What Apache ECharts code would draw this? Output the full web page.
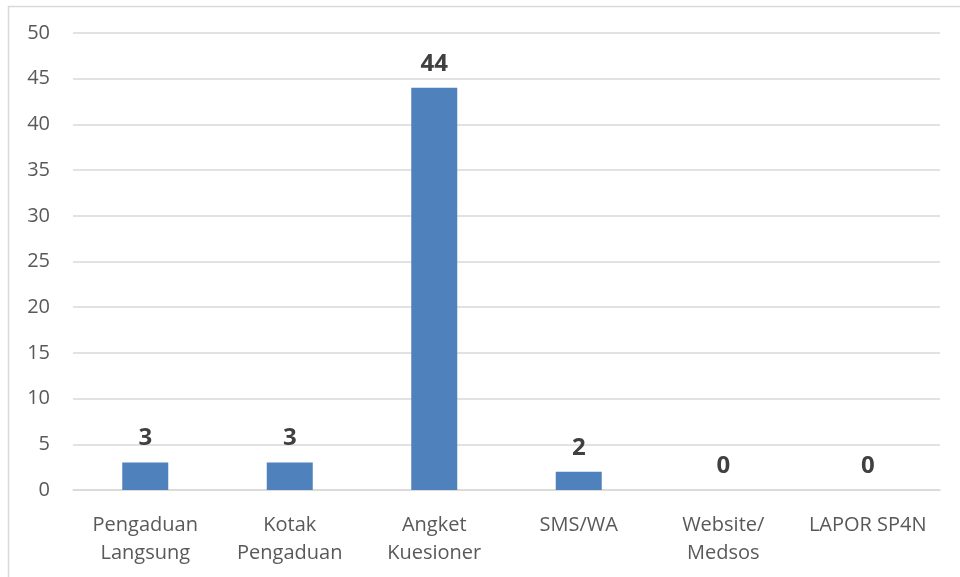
<!DOCTYPE html>
<html>
<head>
<meta charset="utf-8">
<script src="https://cdn.jsdelivr.net/npm/echarts@6/dist/echarts.min.js"></script>
<style>
html,body{margin:0;padding:0;background:#fff;}
#chart1{width:960px;height:577px;}
</style>
</head>
<body>
<div id="chart1"></div>
<script>
var categories=['Pengaduan\nLangsung','Kotak\nPengaduan','Angket\nKuesioner','SMS/WA','Website/\nMedsos','LAPOR SP4N'];
var values=[3,3,44,2,0,0];
var yTicks=[0,5,10,15,20,25,30,35,40,45,50];

chart1();

function chart1(){
	var myChart = echarts.init(document.getElementById('chart1'));
	var option = {
		animation:false,
		textStyle:{fontFamily:'Open Sans'},
		graphic:[{
			type:'rect',
			shape:{x:8.5,y:6.5,width:1000,height:1000},
			style:{fill:'none',stroke:'#d9d9d9',lineWidth:1.5},
			silent:true
		}],
		grid:{
			top:33,
			left:73,
			right:20,
			bottom:87
		},
		xAxis:{
			type:'category',
			data:categories,
			axisTick:{show:false},
			axisLine:{lineStyle:{color:'#d9d9d9',width:1.5}},
			axisLabel:{
				color:'#595959',
				fontSize:20,
				lineHeight:28,
				margin:21,
				interval:0
			}
		},
		yAxis:{
			type:'value',
			min:yTicks[0],
			max:yTicks[yTicks.length-1],
			interval:5,
			axisLine:{show:false},
			axisTick:{show:false},
			axisLabel:{color:'#595959',fontSize:20,margin:23},
			splitLine:{lineStyle:{color:'#d9d9d9',width:1.5}}
		},
		series:[{
			type:'bar',
			data:values,
			barWidth:46,
			itemStyle:{color:'#4f81bd'},
			label:{
				show:true,
				position:'top',
				distance:12,
				color:'#404040',
				fontSize:24,
				fontWeight:'bold'
			}
		}]
	};
	myChart.setOption(option);
	window.addEventListener("resize",function() {
		myChart.resize();
	})
}
</script>
</body>
</html>
